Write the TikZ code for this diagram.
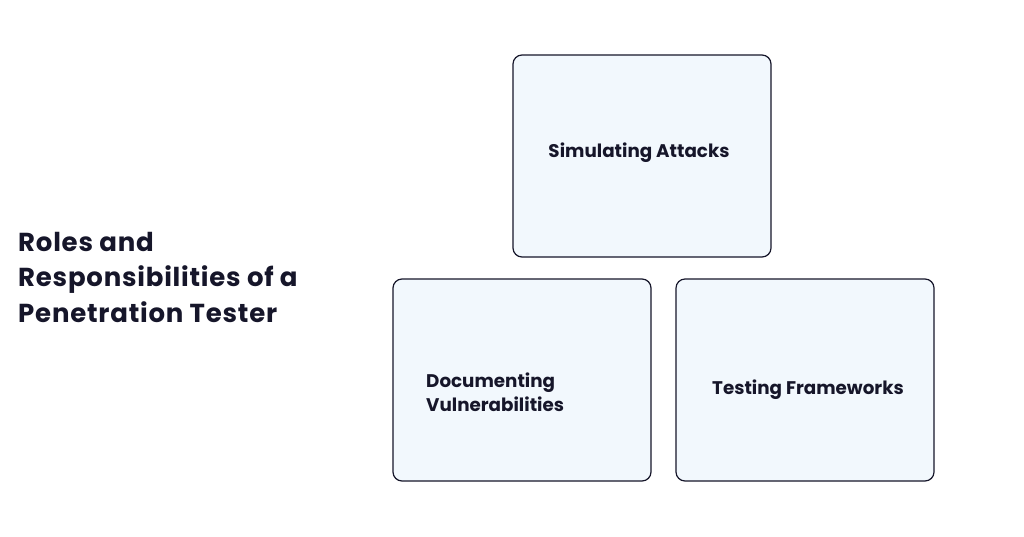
\documentclass[tikz,border=0pt]{standalone}
\usepackage{fontspec}
\setmainfont{Poppins}
\newfontfamily\widefont[LetterSpace=3]{Poppins}
\definecolor{boxfill}{HTML}{F2F8FD}
\definecolor{ink}{HTML}{16162A}
\begin{document}
\begin{tikzpicture}[x=1pt,y=-1pt,
  card/.style={draw=ink,line width=1.2pt,fill=boxfill,rounded corners=9pt},
  lbl/.style={text=ink,font=\fontsize{18.3}{24}\selectfont\bfseries,inner sep=0pt}]
\useasboundingbox[fill=white] (0,0) rectangle (1024,536);
\draw[card] (513,55) rectangle (771,257);
\draw[card] (393,279) rectangle (651,481);
\draw[card] (676,279) rectangle (934,481);
\node[lbl] (a) at (639,153) {Simulating Attacks};
\node[lbl,anchor=west,align=left] (b) at (426,392) {Documenting\\Vulnerabilities};
\node[lbl] (c) at (808,390) {Testing Frameworks};
\node[text=ink,anchor=west,align=left,inner sep=0pt,font=\widefont\fontsize{26}{35.5}\selectfont\bfseries] (t) at (18,277) {Roles and\\Responsibilities of a\\Penetration Tester};
\end{tikzpicture}
\end{document}
